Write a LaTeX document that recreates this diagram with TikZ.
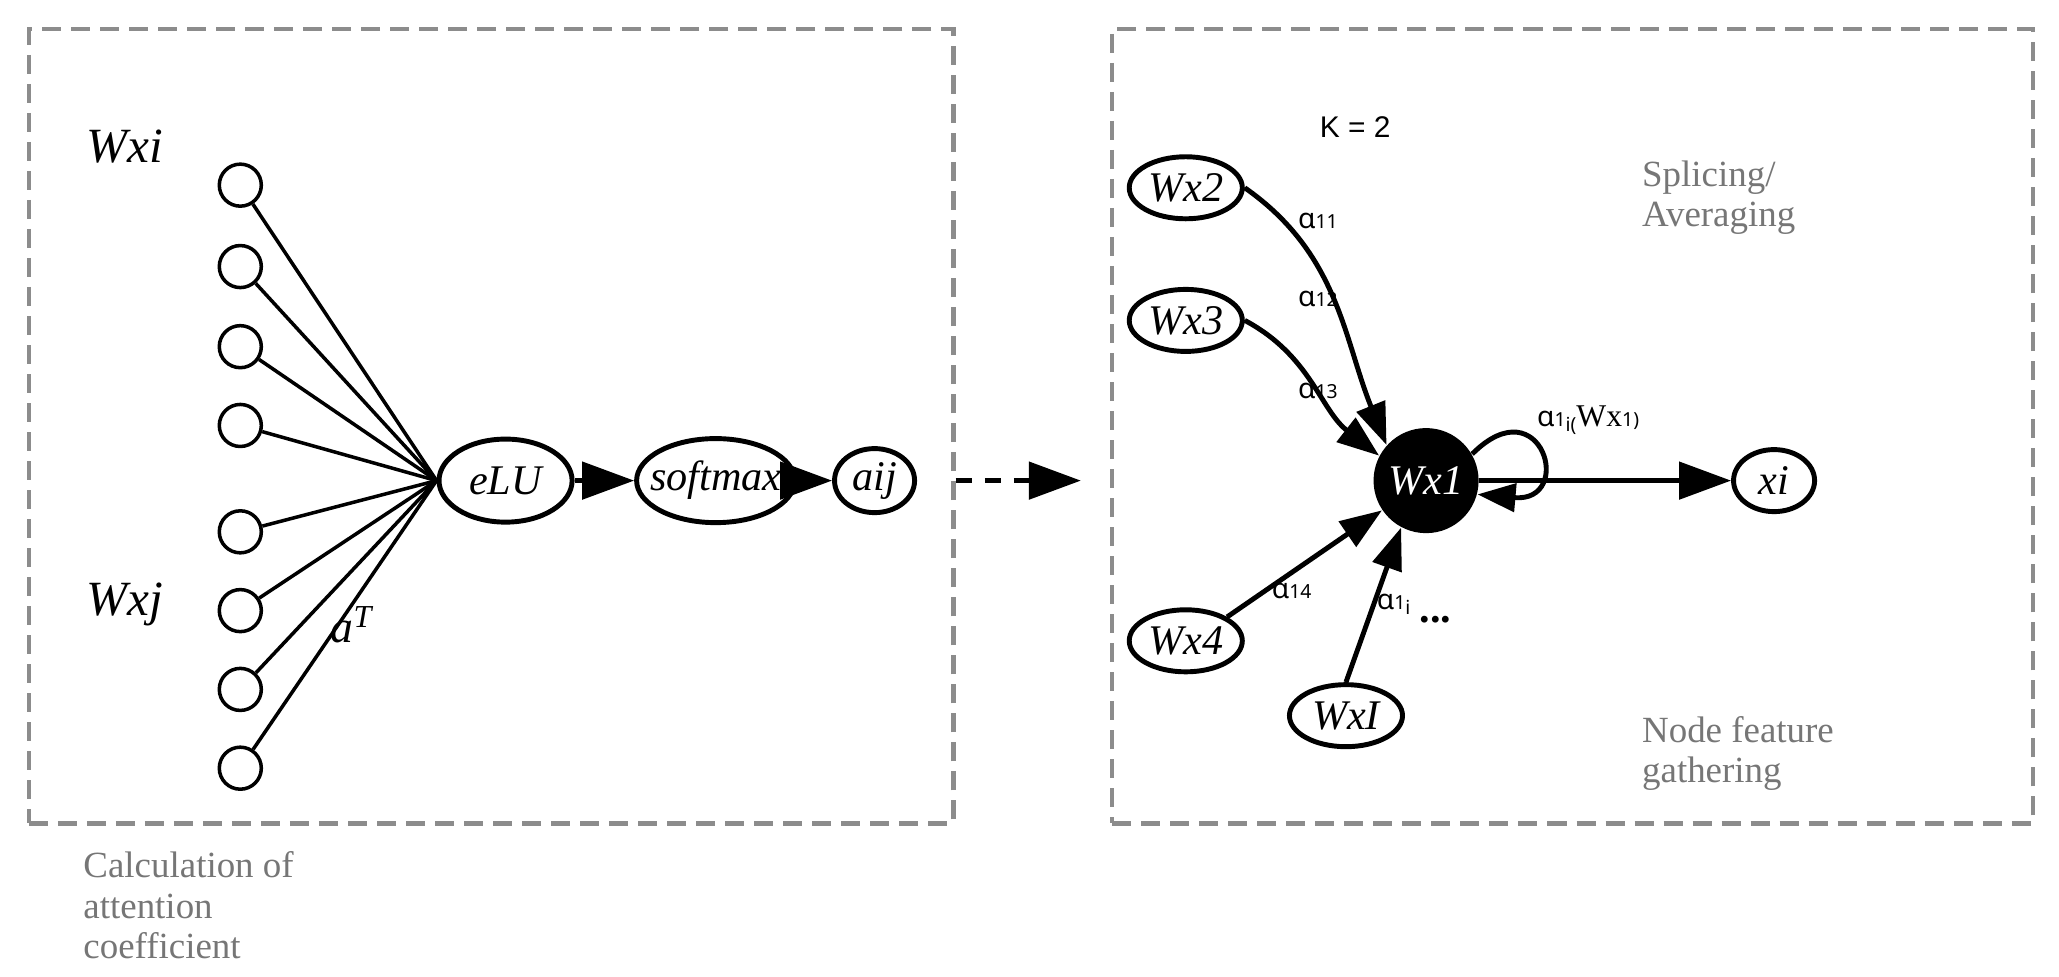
\documentclass[tikz,border=0pt]{standalone}
\usepackage{fontspec}
\setmainfont{Liberation Serif}
\newfontfamily\greekfont{Noto Sans}
\newfontfamily\labelfont{Liberation Sans}
\usetikzlibrary{arrows.meta,positioning,shapes.geometric}
\definecolor{boxgray}{RGB}{140,140,140}
\definecolor{textgray}{RGB}{118,118,118}
\newcommand{\alp}[1]{α{\fontsize{5.5}{6}\selectfont #1}}

\begin{document}
\begin{tikzpicture}[x=0.01313cm,y=0.01313cm,>={Triangle[length=5.2mm,width=3.7mm]},
  every node/.style={font=\fontsize{12}{14}\selectfont\itshape},
  ring/.style={circle,draw,line width=1pt,minimum size=0.42cm,inner sep=0pt},
  oval/.style={ellipse,draw,line width=1.4pt,inner sep=0pt},
  gbox/.style={draw=boxgray,line width=1.3pt,dash pattern=on 1.9mm off 1mm,inner sep=0pt},
  note/.style={font=\fontsize{10.5}{11.5}\selectfont,text=textgray,align=left,anchor=north west,inner sep=0pt},
  lab/.style={font=\greekfont\fontsize{8}{9}\selectfont,inner sep=0pt,anchor=west},
  smalltip/.style={>={Triangle[length=4.2mm,width=3mm]}}]
  \useasboundingbox (0,0) rectangle (1568,744);
  % dashed frames
  \node[gbox,minimum width=9.24cm,minimum height=7.94cm] (lbox) at (374,419.5) {};
  \node[gbox,minimum width=9.20cm,minimum height=7.94cm] (rbox) at (1197.5,419.5) {};
  \node[note] (calc) at (63,96) {Calculation of\\attention\\coefficient};
  % left: inputs and attention
  \node[font=\fontsize{14}{16}\selectfont\itshape] (wxi) at (95,632) {Wxi};
  \node[font=\fontsize{14}{16}\selectfont\itshape] (wxj) at (95,284) {Wxj};
  \foreach \y [count=\i] in {603,541,480,420,339,279,219,159}
    \node[ring] (c\i) at (183,\y) {};
  \node[oval,minimum width=1.33cm,minimum height=0.83cm] (elu) at (385,378) {eLU};
  \node[oval,minimum width=1.58cm,minimum height=0.84cm] (soft) at (545,378) {\makebox[0pt]{softmax}};
  \node[oval,minimum width=0.80cm,minimum height=0.64cm] (aij) at (666,378) {aij};
  \foreach \i in {1,...,8}
    \draw[line width=1pt] (c\i) -- (elu.west);
  \node[font=\fontsize{13}{15}\selectfont\itshape] (aT) at (268,268) {a\textsuperscript{T}};
  \draw[->,line width=1.4pt] (elu) -- (soft);
  \draw[->,line width=1.4pt] (soft.east) -- (aij.west);
  \draw[->,line width=1.4pt,dash pattern=on 1.6mm off 1.3mm,shorten >=0.29cm]
    (aij -| lbox.east) -- (aij -| rbox.west);
  % right: gathering around Wx1
  \node[font=\labelfont\fontsize{8.5}{10}\selectfont] (k) at (1032,647) {K = 2};
  \node[note] (splice) at (1250,622) {Splicing/\\Averaging};
  \node[note] (gather) at (1250,199) {Node feature\\gathering};
  \node[oval,minimum width=1.13cm,minimum height=0.62cm] (w2) at (903,601) {Wx2};
  \node[oval,minimum width=1.13cm,minimum height=0.62cm] (w3) at (903,500) {Wx3};
  \node[oval,minimum width=1.13cm,minimum height=0.62cm] (w4) at (903,256) {Wx4};
  \node[oval,minimum width=1.13cm,minimum height=0.62cm] (wI) at (1025,199) {WxI};
  \node[circle,fill=black,text=white,minimum size=1.05cm,inner sep=0pt] (w1) at (1086,378) {Wx1};
  \node[oval,minimum width=0.81cm,minimum height=0.62cm] (xi) at (1351,378) {xi};
  \begin{scope}[smalltip,line width=1.4pt]
    \draw[->] (w2.east) to[out=-35,in=112] (w1.138);
    \draw[->] (w3.east) to[out=-28,in=142] (w1.152);
    \draw[->] (w4.30) -- (w1.214);
    \draw[->] (wI.north) -- (w1.242);
    \draw[->,>={Triangle[length=3.8mm,width=2.8mm]}] (w1.30)
      .. controls +(45:75) and +(-5:75) .. (w1.-15);
  \end{scope}
  \draw[->,line width=1.4pt] (w1) -- (xi);
  \node[lab] (a11) at (988,576) {\alp{11}};
  \node[lab] (a12) at (988,516) {\alp{12}};
  \node[lab] (a13) at (988,446) {\alp{13}};
  \node[lab] (a14) at (968,294) {\alp{14}};
  \node[lab] (a1i) at (1048,284) {α{\fontsize{5.5}{6}\selectfont 1\raisebox{-0.5ex}{i}}};
  \node[font=\fontsize{12}{14}\selectfont\bfseries] (dots) at (1093,272) {...};
  \node[lab] (a1w) at (1170,424) {α{\fontsize{5.5}{6}\selectfont 1\raisebox{-0.5ex}{i(}}{\rmfamily\fontsize{9}{10}\selectfont Wx}{\fontsize{5.5}{6}\selectfont 1)}};
\end{tikzpicture}
\end{document}
